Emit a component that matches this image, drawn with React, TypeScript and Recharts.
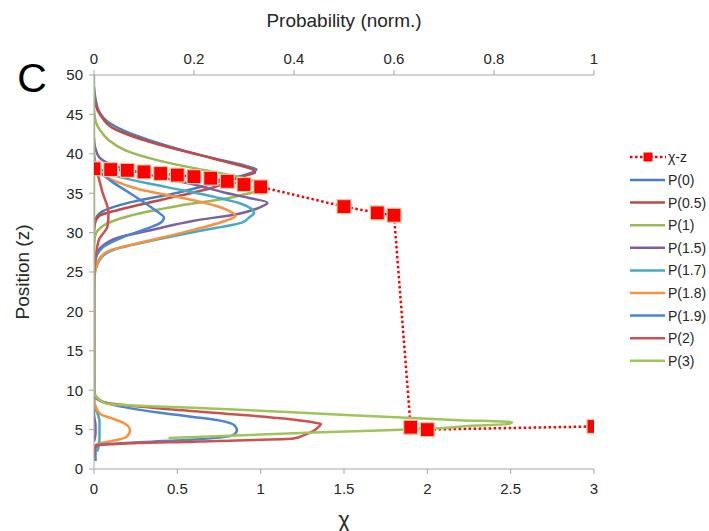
import React from 'react';
import { ComposedChart, Line, XAxis, YAxis } from 'recharts';

// ---------- axis ticks ----------
const zTicks = [0, 5, 10, 15, 20, 25, 30, 35, 40, 45, 50];
const chiTicks = [0, 0.5, 1, 1.5, 2, 2.5, 3];
const probTicks = [0, 0.2, 0.4, 0.6, 0.8, 1];

// ---------- χ-z series (bottom axis, χ) : [z, χ] ----------
const chiZ = [
  [38.1, 0], [38.0, 0.1], [37.9, 0.2], [37.7, 0.3], [37.5, 0.4], [37.3, 0.5],
  [37.1, 0.6], [36.9, 0.7], [36.5, 0.8], [36.1, 0.9], [35.8, 1.0],
  [33.3, 1.5], [32.5, 1.7], [32.2, 1.8], [5.3, 1.9], [5.0, 2.0], [5.4, 3.0],
];

// ---------- probability curves (top axis) : [z, p] ----------
const p0 = [
  [48.5, 0], [47, 0.003], [45.4, 0.01], [43.9, 0.031], [42.8, 0.064], [41.7, 0.112],
  [40.4, 0.18], [39.3, 0.247], [38.5, 0.302], [38.0, 0.325], [37.6, 0.315], [36.8, 0.27],
  [35.1, 0.17], [33.8, 0.07], [32.7, 0.017], [31.7, 0.003], [30.5, 0],
];
const p05 = [
  [48, 0], [46.3, 0.003], [44.8, 0.014], [43.3, 0.037], [42.2, 0.078], [40.9, 0.146],
  [39.8, 0.214], [38.7, 0.281], [38.0, 0.318], [37.6, 0.322], [37.2, 0.3], [35.7, 0.237],
  [34.2, 0.137], [32.9, 0.05], [32.1, 0.01], [31.2, 0.002], [30, 0],
];
const p1 = [
  [45.5, 0], [44, 0.004], [43, 0.012], [41.7, 0.03], [40.4, 0.064], [39.1, 0.132],
  [38.0, 0.214], [37.2, 0.281], [36.3, 0.33], [35.8, 0.342], [35.4, 0.33], [34.4, 0.27],
  [33.4, 0.17], [32.1, 0.07], [30.8, 0.017], [29.5, 0.002], [28, 0],
];
const p15 = [
  [42, 0], [40.9, 0.002], [39.6, 0.01], [38.5, 0.04], [37.2, 0.12], [36.1, 0.2],
  [35.1, 0.26], [34.4, 0.31], [33.8, 0.347], [33.3, 0.335], [32.4, 0.29], [31.5, 0.2],
  [30.4, 0.12], [29.3, 0.045], [28.2, 0.015], [27, 0.004], [25.5, 0],
  [7, 0], [5.5, 0.003], [4.5, 0.003], [3.5, 0],
];
const p17 = [
  [40, 0], [38.7, 0.004], [37.2, 0.043], [35.8, 0.143], [34.5, 0.243], [33.6, 0.297],
  [32.5, 0.32], [31.9, 0.31], [31.3, 0.297], [30.2, 0.21], [28.9, 0.11], [27.9, 0.043],
  [27.0, 0.017], [25.3, 0.003], [24, 0],
  [8, 0], [7.2, 0.006], [6, 0.011], [4, 0.011], [2.8, 0.009], [2.2, 0.006],
];
const p18 = [
  [39.5, 0], [38.1, 0.003], [36.6, 0.04], [35.5, 0.09], [34.4, 0.177], [33.4, 0.243],
  [32.6, 0.275], [32.1, 0.283], [31.5, 0.263], [30.0, 0.177], [28.5, 0.077], [27.7, 0.03],
  [26.6, 0.01], [24.9, 0.002], [23.5, 0],
  [9, 0], [8, 0.003], [7.0, 0.012], [6.375, 0.038], [5.75, 0.062], [4.92, 0.072],
  [4.08, 0.065], [3.67, 0.045], [3.33, 0.017], [3.04, 0.003], [2.8, 0],
];
const p19 = [
  [39.5, 0], [38, 0.008], [36.5, 0.035], [35, 0.072], [33.5, 0.108], [32.6, 0.128],
  [31.9, 0.14], [31.2, 0.132], [30.6, 0.11], [29.4, 0.057], [28.1, 0.017], [26.6, 0.003],
  [25, 0],
  [9.5, 0], [9.1, 0.002], [8.04, 0.045], [7.0, 0.147], [6.17, 0.25], [5.54, 0.281],
  [4.92, 0.286], [4.29, 0.278], [3.67, 0.182], [3.25, 0.045], [3.04, 0.004], [2.5, 0.003],
  [1.0, 0.003],
];
const p2 = [
  [38.5, 0], [38.1, 0.003], [35.1, 0.017], [32.5, 0.029], [30.8, 0.027], [29.1, 0.01],
  [26.1, 0.002], [24, 0],
  [10, 0], [9.3, 0.003], [8.52, 0.017], [7.45, 0.177], [6.37, 0.385], [5.9, 0.44],
  [5.73, 0.454], [5.4, 0.45], [4.87, 0.44], [4.3, 0.42], [3.88, 0.399], [3.5, 0.211],
  [3.15, 0.038], [3.03, 0.01], [2.7, 0.002], [1.5, 0],
];
const p3 = [
  [50, 0], [9.8, 0], [8.3, 0.024], [7.66, 0.246], [6.8, 0.524], [6.2, 0.731],
  [5.94, 0.836], [5.73, 0.83], [5.52, 0.766], [5.09, 0.662], [4.66, 0.454], [3.93, 0.149],
];

const probSeries = [p0, p05, p1, p15, p17, p18, p19, p2, p3];
const probNames = ['P(0)', 'P(0.5)', 'P(1)', 'P(1.5)', 'P(1.7)', 'P(1.8)', 'P(1.9)', 'P(2)', 'P(3)'];
const probColors = ['#4A7EBB', '#BE4B48', '#98B954', '#7D60A0', '#46AAC5', '#F69240', '#4A86D0', '#CC5250', '#9FC55A'];

const chiName = 'χ-z';
const chiColor = '#FF0000';

const toProb = (arr: number[][]) => arr.map(([z, p]) => ({ z, p }));
const toChi = (arr: number[][]) => arr.map(([z, c]) => ({ z, chi: c }));

const FONT = '"Liberation Sans", Arial, sans-serif';
const AXIS_GRAY = '#A6A6A6';
const TEXT = '#262626';

const SquareDot = (props: any) => {
  const { cx, cy, index } = props;
  if (cx == null || cy == null) return <g key={`d${index}`} />;
  return (
    <rect key={`d${index}`} x={cx - 7} y={cy - 7} width={14} height={14}
      fill={chiColor} stroke="#E9C9A6" strokeWidth={1.2} />
  );
};

export default function App() {
  return (
    <div style={{ position: 'absolute', left: 0, top: 0, width: 709, height: 531, fontFamily: FONT, background: '#fff' }}>
      <ComposedChart layout="vertical" width={709} height={531}
        margin={{ top: 40, right: 115, bottom: 32, left: 54 }} style={{ fontFamily: FONT }}>
        <XAxis xAxisId="p" orientation="top" type="number" domain={[0, 1]} ticks={probTicks}
          height={35} allowDataOverflow
          axisLine={{ stroke: AXIS_GRAY }} tickLine={{ stroke: AXIS_GRAY }} tickSize={5} tickMargin={6}
          tick={{ fill: TEXT, fontSize: 15 }} />
        <XAxis xAxisId="chi" orientation="bottom" type="number" domain={[0, 3]} ticks={chiTicks}
          height={30} allowDataOverflow
          axisLine={{ stroke: AXIS_GRAY }} tickLine={{ stroke: AXIS_GRAY }} tickSize={5} tickMargin={9}
          tick={{ fill: TEXT, fontSize: 15 }} />
        <YAxis type="number" dataKey="z" domain={[0, 50]} ticks={zTicks} width={40} allowDataOverflow reversed
          axisLine={{ stroke: AXIS_GRAY }} tickLine={{ stroke: AXIS_GRAY }} tickSize={5} tickMargin={6}
          tick={{ fill: TEXT, fontSize: 15 }} />
        <Line xAxisId="chi" data={toChi(chiZ)} dataKey="chi" name={chiName} type="linear"
          stroke={chiColor} strokeWidth={2.5} strokeDasharray="2.5 2.5"
          dot={SquareDot} activeDot={false} isAnimationActive={false} />
        {probSeries.map((s, i) => (
          <Line key={probNames[i]} xAxisId="p" data={toProb(s)} dataKey="p" name={probNames[i]}
            type="monotone" stroke={probColors[i]} strokeWidth={2.5} dot={false}
            activeDot={false} isAnimationActive={false} />
        ))}
      </ComposedChart>
      <svg width={709} height={531} style={{ position: 'absolute', left: 0, top: 0, pointerEvents: 'none' }}
        fontFamily={FONT}>
        <text x={32} y={92} textAnchor="middle" fontSize={41} fill="#000">C</text>
        <text x={344} y={27} textAnchor="middle" fontSize={19} fill={TEXT}>Probability (norm.)</text>
        <text x={344} y={527} textAnchor="middle" fontSize={22} fill={TEXT}>χ</text>
        <text transform="translate(29,272) rotate(-90)" textAnchor="middle" fontSize={19} fill={TEXT}>Position (z)</text>
        <g>
          <line x1={630} x2={666} y1={157} y2={157} stroke={chiColor} strokeWidth={2.5} strokeDasharray="2.5 2.5" />
          <rect x={643.5} y={152.5} width={9} height={9} fill={chiColor} />
          <text x={668} y={162} fontSize={14} fill={TEXT}>{chiName}</text>
          {probNames.map((n, i) => (
            <g key={n}>
              <line x1={630} x2={665} y1={180 + i * 22.6} y2={180 + i * 22.6} stroke={probColors[i]} strokeWidth={2.5} />
              <text x={668} y={185 + i * 22.6} fontSize={14} fill={TEXT}>{n}</text>
            </g>
          ))}
        </g>
      </svg>
    </div>
  );
}
